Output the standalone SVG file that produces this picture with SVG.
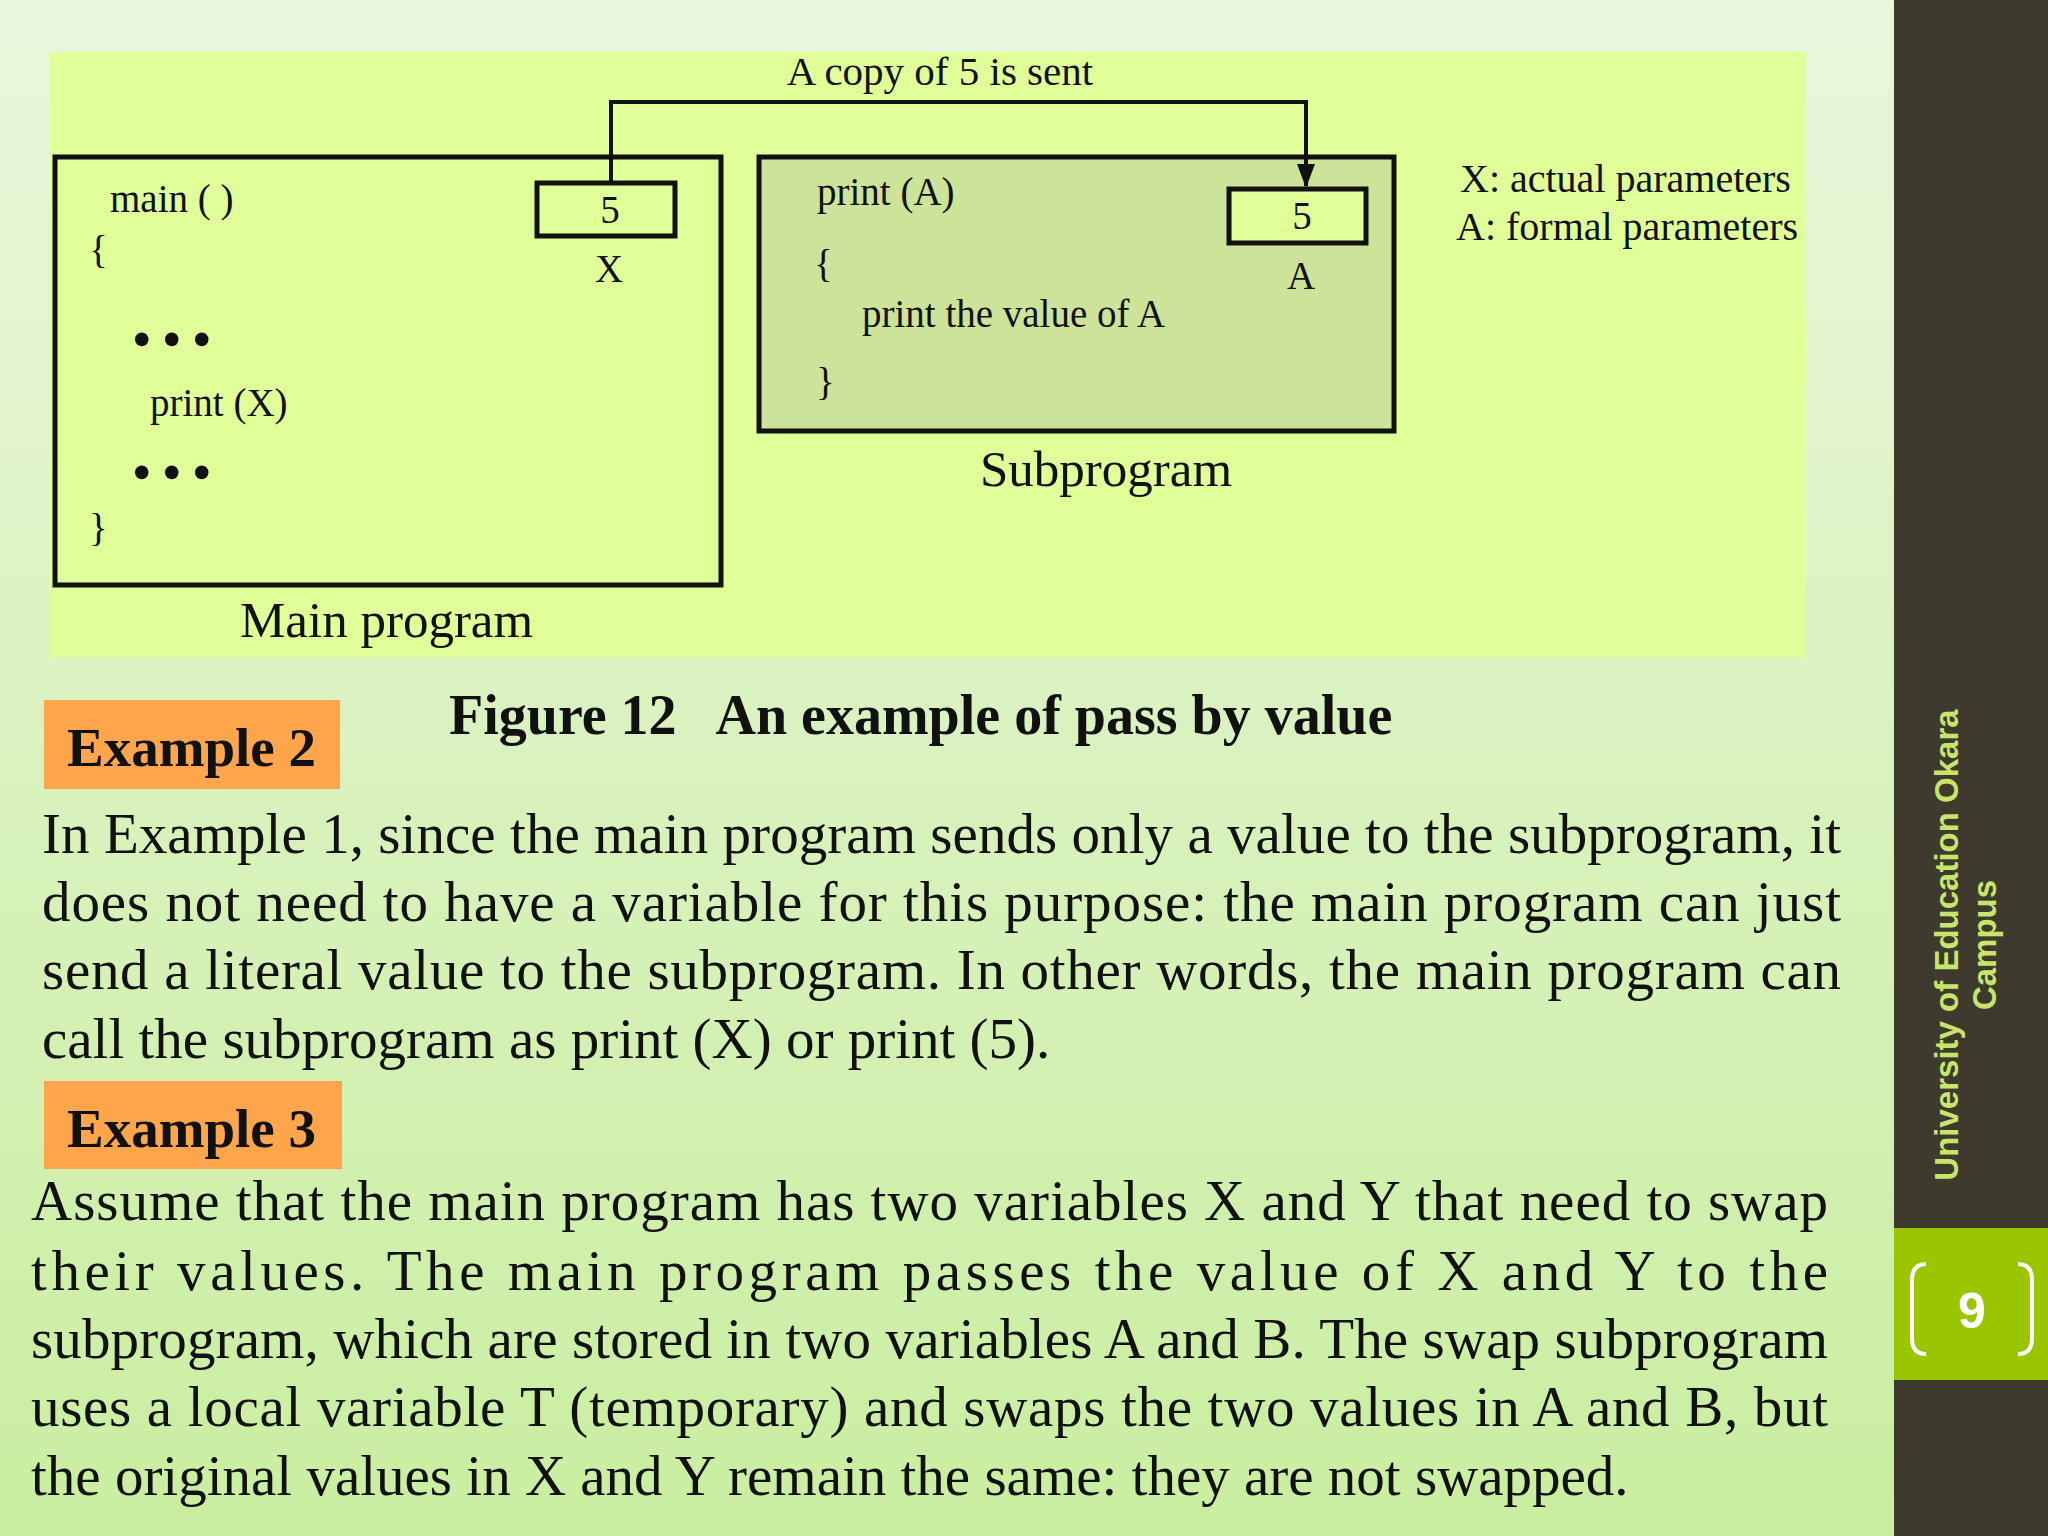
<svg xmlns="http://www.w3.org/2000/svg" width="2048" height="1536" viewBox="0 0 2048 1536">
<defs>
<linearGradient id="bg" x1="0" y1="0" x2="0" y2="1"><stop offset="0" stop-color="#eaf6dc"/><stop offset="1" stop-color="#c9eea0"/></linearGradient>
<marker id="arr" markerWidth="20" markerHeight="24" refX="9" refY="22" orient="0" markerUnits="userSpaceOnUse" viewBox="0 0 18 24"><path d="M0,0 L18,0 L9,24 Z" fill="#111"/></marker>
</defs>
<style>
.s{font-family:"Liberation Serif",serif;fill:#111}
.d{font-size:39px}
.b{stroke:#111;stroke-width:5;}
.p{font-size:57px}
.ex{font-family:"Liberation Serif",serif;font-weight:bold;font-size:55px;fill:#111}
</style>
<rect width="2048" height="1536" fill="url(#bg)"/>
<rect x="50" y="52" width="1756" height="605" fill="#e0ff99"/>
<g id="main">
<rect class="b" x="55" y="157" width="666" height="428" fill="#e0ff99"/>
<text class="s d" x="110" y="212">main ( )</text>
<text class="s d" x="89" y="263">{</text>
<text class="s" x="133" y="356" font-size="50" font-weight="bold">• • •</text>
<text class="s d" x="150" y="416">print (X)</text>
<text class="s" x="133" y="489" font-size="50" font-weight="bold">• • •</text>
<text class="s d" x="89" y="541">}</text>
<text class="s" x="240" y="637" font-size="51">Main program</text>
</g>
<g id="boxX">
<rect class="b" x="537" y="183" width="138" height="53" fill="#e0ff99"/>
<text class="s d" x="610" y="223" text-anchor="middle">5</text>
<text class="s d" x="609" y="282" text-anchor="middle">X</text>
</g>
<g id="sub">
<rect class="b" x="759" y="157" width="635" height="274" fill="#cde39a"/>
<text class="s d" x="817" y="205">print (A)</text>
<text class="s d" x="814" y="277">{</text>
<text class="s d" x="862" y="327">print the value of A</text>
<text class="s d" x="816" y="395">}</text>
<text class="s" x="980" y="486" font-size="51">Subprogram</text>
</g>
<g id="boxA">
<rect class="b" x="1229" y="189" width="137" height="54" fill="#e0ff99"/>
<text class="s d" x="1302" y="229" text-anchor="middle">5</text>
<text class="s d" x="1301" y="289" text-anchor="middle">A</text>
</g>
<g id="connectors">
<polyline points="611,183 611,102 1306,102 1306,186" fill="none" stroke="#111" stroke-width="4" marker-end="url(#arr)"/>
<text class="s" font-size="41" x="940" y="85" text-anchor="middle">A copy of 5 is sent</text>
</g>
<g id="legend">
<text class="s" font-size="40" x="1460" y="192">X: actual parameters</text>
<text class="s" font-size="40" x="1456" y="240">A: formal parameters</text>
</g>
<text class="s" x="449" y="734" font-size="56" font-weight="bold" xml:space="preserve">Figure 12   An example of pass by value</text>
<g id="ex2">
<rect x="44" y="700" width="296" height="89" fill="#ffa64d"/>
<text class="ex" x="67" y="766">Example 2</text>
</g>
<g class="s p">
<text x="42" y="853" textLength="1799" lengthAdjust="spacing">In Example 1, since the main program sends only a value to the subprogram, it</text>
<text x="42" y="921" textLength="1799" lengthAdjust="spacing">does not need to have a variable for this purpose: the main program can just</text>
<text x="42" y="989" textLength="1799" lengthAdjust="spacing">send a literal value to the subprogram. In other words, the main program can</text>
<text x="42" y="1058">call the subprogram as print (X) or print (5).</text>
</g>
<g id="ex3">
<rect x="44" y="1081" width="298" height="88" fill="#ffa64d"/>
<text class="ex" x="67" y="1147">Example 3</text>
</g>
<g class="s p">
<text x="31" y="1220" textLength="1797" lengthAdjust="spacing">Assume that the main program has two variables X and Y that need to swap</text>
<text x="31" y="1290" textLength="1797" lengthAdjust="spacing">their values. The main program passes the value of X and Y to the</text>
<text x="31" y="1358" textLength="1797" lengthAdjust="spacing">subprogram, which are stored in two variables A and B. The swap subprogram</text>
<text x="31" y="1426" textLength="1797" lengthAdjust="spacing">uses a local variable T (temporary) and swaps the two values in A and B, but</text>
<text x="31" y="1495">the original values in X and Y remain the same: they are not swapped.</text>
</g>
<g id="sidebar">
<rect x="1894" y="0" width="154" height="1536" fill="#3e3a2e"/>
<rect x="1894" y="1228" width="154" height="152" fill="#99c600"/>
<g font-family="Liberation Sans,Arial,sans-serif" font-weight="bold" font-size="33" fill="#c8e46a" text-anchor="middle">
<text transform="translate(1958,945) rotate(-90)">University of Education Okara</text>
<text transform="translate(1996,945) rotate(-90)">Campus</text>
</g>
<path d="M1926,1264 Q1912,1264 1912,1280 L1912,1338 Q1912,1354 1926,1354" fill="none" stroke="#fff" stroke-width="4"/>
<path d="M2018,1264 Q2032,1264 2032,1280 L2032,1338 Q2032,1354 2018,1354" fill="none" stroke="#fff" stroke-width="4"/>
<text x="1972" y="1328" font-family="Liberation Sans,Arial,sans-serif" font-weight="bold" font-size="50" fill="#fff" text-anchor="middle">9</text>
</g>
</svg>
